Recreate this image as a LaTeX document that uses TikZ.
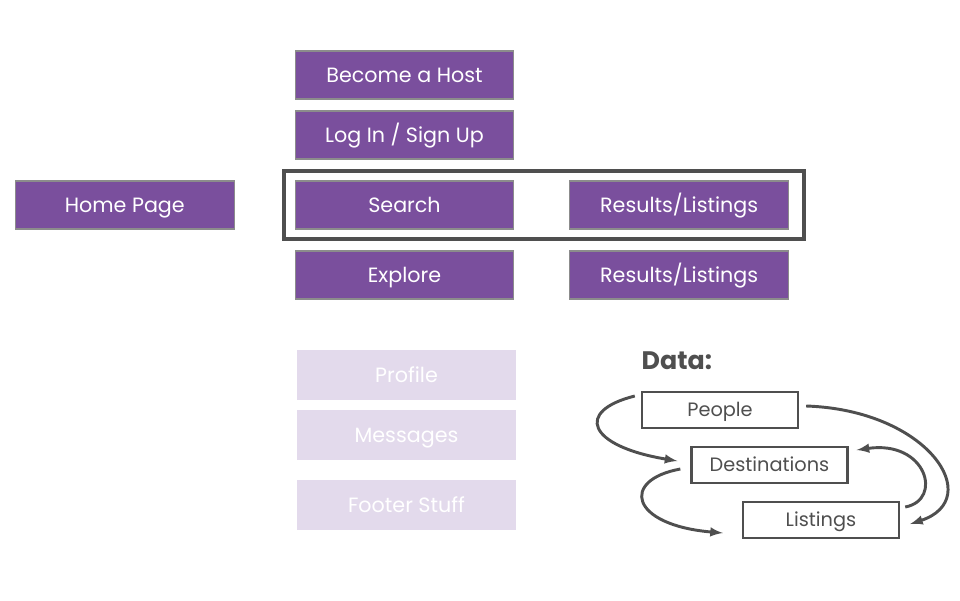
\documentclass[tikz,border=0pt]{standalone}
\usepackage{fontspec}
\setmainfont{Poppins}
\usetikzlibrary{positioning}
\definecolor{pagepurple}{HTML}{7A4F9D}
\definecolor{pageedge}{HTML}{8C8C8C}
\definecolor{fadedpurple}{HTML}{E3DAEC}
\definecolor{darkgrey}{HTML}{4F4F4F}

\begin{document}
\begin{tikzpicture}[x=0.75pt, y=-0.75pt, node distance=9pt,
  page/.style={draw=pageedge, line width=0.8pt, fill=pagepurple, text=white, minimum width=164pt, minimum height=36pt, inner sep=0pt, outer sep=0pt, text height=10.8pt, text depth=0pt, font=\fontsize{15.5}{18}\selectfont},
  faded/.style={fill=fadedpurple, text=white, minimum width=164pt, minimum height=37.5pt, inner sep=0pt, outer sep=0pt, text height=10.8pt, text depth=0pt, font=\fontsize{15.5}{18}\selectfont},
  datanode/.style={draw=darkgrey, line width=1.8pt, text=darkgrey, minimum width=117pt, minimum height=27pt, inner sep=0pt, text height=10.1pt, text depth=0pt, font=\fontsize{14.5}{17}\selectfont},
  flow/.style={draw=darkgrey, line width=2.2pt, ->, >={latex[scale=1.15]}}]
\useasboundingbox (0,0) rectangle (960,600);
\node[page] (Search) at (404.5,205) {Search};
\node[page] (Login) [above=16.5pt of Search] {Log In / Sign Up};
\node[page] (Host) [above=of Login] {Become a Host};
\node[page] (Explore) [below=16.5pt of Search] {Explore};
\node[page] (Home) [left=45.75pt of Search] {Home Page};
\node[page] (Results) [right=42pt of Search] {Results/Listings};
\node[page] (Results2) [right=42pt of Explore] {Results/Listings};
\draw[darkgrey, line width=3pt] ([shift={(-11,-10)}]Search.north west) rectangle ([shift={(15,10)}]Results.south east);
% pages not in scope yet
\node[faded] (Profile) at (406.5,375) {Profile};
\node[faded] (Messages) [below=7.5pt of Profile] {Messages};
\node[faded] (Footer) [below=15pt of Messages] {Footer Stuff};
% data model
\node[datanode] (People) at (720,410) {People};
\node[datanode] (Dest) at (769.5,465) {Destinations};
\node[datanode] (Listings) at (821,520) {Listings};
\node[anchor=west, text=darkgrey, font=\fontsize{19}{22}\selectfont\bfseries] (Data) at (637,361) {Data:};
\draw[flow] ([shift={(-6,-14)}]People.west) .. controls +(-60,15) and +(-90,-15) .. ([shift={(-13,-4)}]Dest.west);
\draw[flow] ([shift={(7,-4)}]People.east) .. controls +(122,4) and +(76,-25) .. ([shift={(10,4)}]Listings.east);
\draw[flow] ([shift={(5,-13)}]Listings.east) .. controls +(38,-7) and +(70,-10) .. ([shift={(8,-15)}]Dest.east);
\draw[flow] ([shift={(-10,4)}]Dest.west) .. controls +(-60,11) and +(-93,-8) .. ([shift={(-19,13)}]Listings.west);
\end{tikzpicture}
\end{document}
